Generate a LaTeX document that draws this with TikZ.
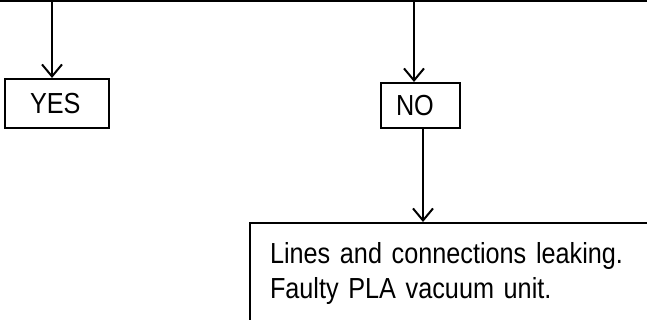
\documentclass[tikz,border=0pt]{standalone}
\usepackage{fontspec}
\setmainfont[FakeStretch=0.87]{Liberation Sans}
\usepackage{tikz}
\usetikzlibrary{arrows.meta,positioning,calc}

\begin{document}
\begin{tikzpicture}[x=1pt,y=-1pt,line width=2pt,
    answer/.style={draw,align=left,anchor=north west,inner ysep=0pt,
      font={\fontsize{29}{35}\selectfont}},
    reason/.style={draw,align=left,anchor=north west,inner xsep=20pt,inner ysep=19pt,
      text width=380pt,font={\fontsize{29}{35}\selectfont}},
    flow/.style={-{Straight Barb[length=12pt,width=20pt]}}]
  \useasboundingbox (0,0) rectangle (647,320);
  \clip (0,0) rectangle (647,320);
  % line from the box above
  \draw (-5,1) -- (652,1);
  \coordinate (yestop) at (52,1);
  \coordinate (notop) at (414,1);
  % answers
  \node[answer,inner xsep=25pt,text width=54pt,minimum height=49pt] (yes) at (4,78) {YES};
  \node[answer,inner xsep=15pt,text width=49pt,minimum height=45pt] (no) at (380,82) {NO};
  % what it means
  \node[reason] (causes) at (249,222) {Lines and connections leaking.\\Faulty PLA vacuum unit.};
  \draw[flow] (yestop) -- (yestop |- yes.north);
  \draw[flow] (notop) -- (notop |- no.north);
  \draw[flow] ([xshift=2.5pt]no.south) -- ([xshift=2.5pt]no.south |- causes.north);
\end{tikzpicture}
\end{document}
